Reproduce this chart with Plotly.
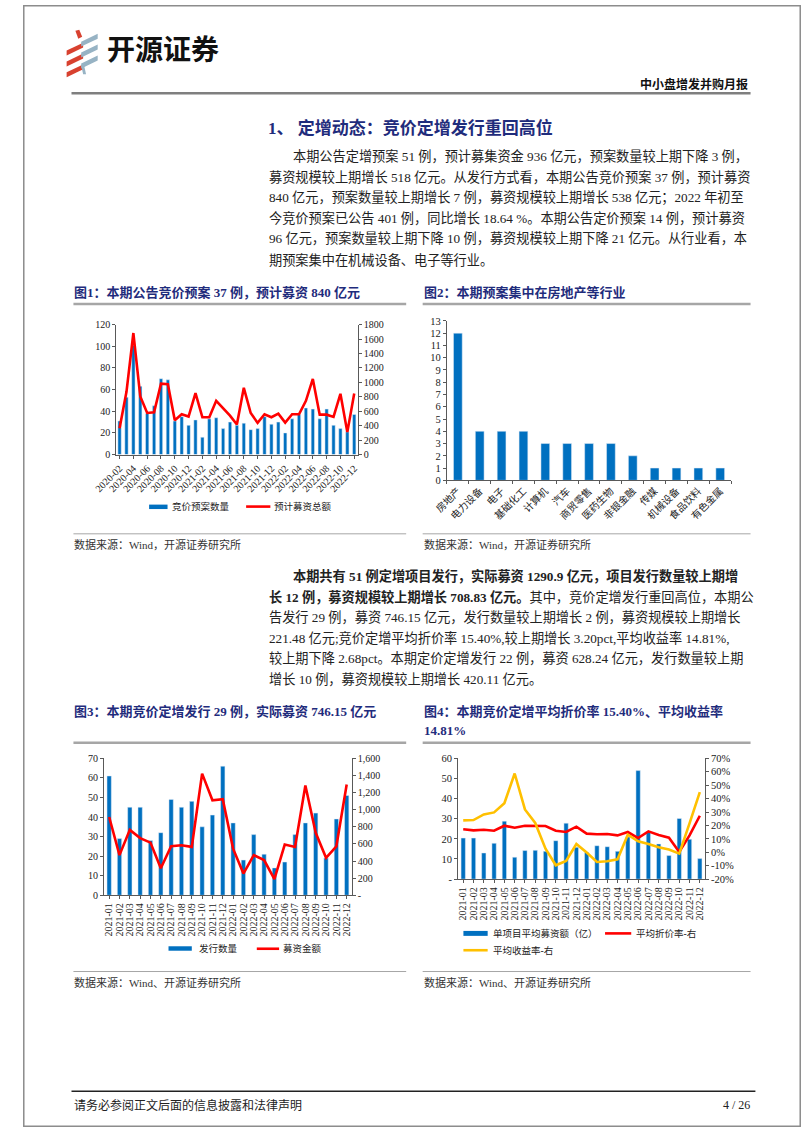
import plotly.graph_objects as go

W, H = 802, 1133

# ---------------- data ----------------
months1 = ['2020-02', '2020-03', '2020-04', '2020-05', '2020-06', '2020-07', '2020-08', '2020-09',
           '2020-10', '2020-11', '2020-12', '2021-01', '2021-02', '2021-03', '2021-04', '2021-05',
           '2021-06', '2021-07', '2021-08', '2021-09', '2021-10', '2021-11', '2021-12', '2022-01',
           '2022-02', '2022-03', '2022-04', '2022-05', '2022-06', '2022-07', '2022-08', '2022-09',
           '2022-10', '2022-11', '2022-12']
bid_plan_count = [31, 53, 101, 63, 38, 45, 70, 69, 31, 35, 27, 32, 16, 33, 34, 24, 30, 27, 29, 23,
                  24, 35, 28, 30, 20, 33, 37, 43, 42, 33, 42, 27, 24, 21, 37]
bid_plan_amount = [366, 869, 1683, 805, 576, 585, 983, 974, 475, 558, 526, 851, 517, 517, 745, 640,
                   540, 416, 924, 576, 439, 558, 517, 567, 443, 558, 558, 745, 1047, 553, 553, 521,
                   841, 311, 846]

industries = ['房地产', '电力设备', '电子', '基础化工', '计算机', '汽车', '商贸零售', '医药生物',
              '非银金融', '传媒', '机械设备', '食品饮料', '有色金属']
industry_count = [12, 4, 4, 4, 3, 3, 3, 3, 2, 1, 1, 1, 1]

months2 = ['2021-01', '2021-02', '2021-03', '2021-04', '2021-05', '2021-06', '2021-07', '2021-08',
           '2021-09', '2021-10', '2021-11', '2021-12', '2022-01', '2022-02', '2022-03', '2022-04',
           '2022-05', '2022-06', '2022-07', '2022-08', '2022-09', '2022-10', '2022-11', '2022-12']
issue_count = [61, 29, 45, 45, 28, 32, 49, 45, 48, 35, 41, 66, 37, 18, 31, 21, 14, 17, 31, 37, 42,
               19, 39, 51]
issue_amount = [914, 469, 764, 668, 615, 315, 572, 584, 565, 1421, 1110, 1122, 545, 253, 469, 411,
                188, 592, 565, 1283, 730, 438, 572, 1295]

avg_raise = [20.4, 20.4, 13.0, 17.8, 28.8, 10.9, 14.2, 14.3, 13.8, 19.1, 27.8, 15.8, 13.2, 16.6,
             16.1, 13.8, 20.9, 53.9, 23.2, 17.5, 11.7, 30.1, 19.8, 10.2]
avg_discount = [17.1, 16.3, 16.8, 16.1, 19.8, 18.3, 19.8, 19.8, 19.6, 16.1, 15.1, 19.1, 13.9, 13.4,
                13.6, 12.6, 15.1, 10.6, 15.6, 12.9, 10.9, 0.2, 12.6, 27.2]
avg_return = [23.8, 24.0, 28.2, 29.7, 36.6, 58.7, 31.9, 21.8, 2.7, -9.7, -6.4, 6.2, -0.2, -7.2,
              -6.7, -5.2, 13.1, 8.2, 6.2, 3.7, 2.0, -1.0, 21.5, 44.8]

left3_ticks = [0, 10, 20, 30, 40, 50, 60, 70]
right3_ticks = [0, 200, 400, 600, 800, 1000, 1200, 1400, 1600]
right3_text = ['-', '200', '400', '600', '800', '1,000', '1,200', '1,400', '1,600']
left4_ticks = [0, 10, 20, 30, 40, 50, 60]
left4_text = ['-', '10', '20', '30', '40', '50', '60']
right4_ticks = [-20, -10, 0, 10, 20, 30, 40, 50, 60, 70]
right4_text = ['-20%', '-10%', '0%', '10%', '20%', '30%', '40%', '50%', '60%', '70%']

# ---------------- style ----------------
BLUE = '#0070C0'
RED = '#FF0000'
YELLOW = '#FFC000'
NAVY = '#1F2C7C'
AX = '#595959'
SERIF = 'Liberation Serif, Noto Sans CJK SC'
CJK = 'Liberation Serif, Noto Sans CJK SC'


def X(p):
    return p / W


def Y(p):
    return 1 - p / H


fig = go.Figure()

# chart 1
fig.add_trace(go.Bar(x=months1, y=bid_plan_count, marker_color=BLUE, width=0.48,
                     xaxis='x', yaxis='y', showlegend=False))
fig.add_trace(go.Scatter(x=months1, y=bid_plan_amount, mode='lines', line=dict(color=RED, width=2.6),
                         xaxis='x', yaxis='y2', showlegend=False))
# chart 2
fig.add_trace(go.Bar(x=industries, y=industry_count, marker_color=BLUE, width=0.4,
                     xaxis='x2', yaxis='y3', showlegend=False))
# chart 3
fig.add_trace(go.Bar(x=months2, y=issue_count, marker_color=BLUE, width=0.42,
                     xaxis='x3', yaxis='y4', showlegend=False))
fig.add_trace(go.Scatter(x=months2, y=issue_amount, mode='lines', line=dict(color=RED, width=2.6),
                         xaxis='x3', yaxis='y5', showlegend=False))
# chart 4
fig.add_trace(go.Bar(x=months2, y=avg_raise, marker_color=BLUE, width=0.42,
                     xaxis='x4', yaxis='y6', showlegend=False))
fig.add_trace(go.Scatter(x=months2, y=avg_discount, mode='lines', line=dict(color=RED, width=2.6),
                         xaxis='x4', yaxis='y7', showlegend=False))
fig.add_trace(go.Scatter(x=months2, y=avg_return, mode='lines', line=dict(color=YELLOW, width=2.6),
                         xaxis='x4', yaxis='y7', showlegend=False))


def yax(dom, **kw):
    d = dict(domain=[Y(dom[1]), Y(dom[0])], showline=True, linecolor=AX, linewidth=1,
             ticks='outside', ticklen=3, tickcolor=AX, showgrid=False, zeroline=False,
             tickfont=dict(family=SERIF, size=10, color='#222'))
    d.update(kw)
    return d


def xax(dom, **kw):
    d = dict(domain=[X(dom[0]), X(dom[1])], type='category', showline=True, linecolor=AX,
             linewidth=1, ticks='outside', ticklen=3, tickcolor=AX, showgrid=False,
             zeroline=False, tickfont=dict(family=SERIF, size=10, color='#222'))
    d.update(kw)
    return d


fig.update_layout(
    width=W, height=H, margin=dict(l=0, r=0, t=0, b=0, pad=0),
    paper_bgcolor='white', plot_bgcolor='white',
    font=dict(family=SERIF, color='#222'),
    # chart 1
    xaxis=xax((96, 345), anchor='y', range=[-0.5, 34.5], tickmode='array',
              tickvals=months1[::2], tickangle=-45),
    yaxis=yax((322.7, 454), anchor='x', range=[0, 120], dtick=20),
    yaxis2=yax((322.7, 454), anchor='x', overlaying='y', side='right', range=[0, 1800], dtick=200),
    # chart 2
    xaxis2=xax((437, 730), anchor='y3', range=[-0.5, 12.5], tickangle=-45, tickson='boundaries',
               tickmode='array', tickvals=industries,
               tickfont=dict(family=CJK, size=10, color='#222')),
    yaxis3=yax((319, 480), anchor='x2', range=[0, 13], dtick=1,
               tickfont=dict(family=SERIF, size=10.5, color='#222')),
    # chart 3
    xaxis3=xax((83.5, 339), anchor='y4', range=[-0.5, 23.5], tickangle=-90,
               tickmode='array', tickvals=months2),
    yaxis4=yax((760.7, 899), anchor='x3', range=[0, 70], tickmode='array', tickvals=left3_ticks),
    yaxis5=yax((760.7, 899), anchor='x3', overlaying='y4', side='right', range=[0, 1600],
               tickmode='array', tickvals=right3_ticks, ticktext=right3_text),
    # chart 4
    xaxis4=xax((448.5, 703), anchor='y6', range=[-0.5, 23.5], tickangle=-90,
               tickmode='array', tickvals=months2),
    yaxis6=yax((760.7, 882.7), anchor='x4', range=[0, 60], tickmode='array', tickvals=left4_ticks,
               ticktext=left4_text, tickfont=dict(family=SERIF, size=10.5, color='#222')),
    yaxis7=yax((760.7, 882.7), anchor='x4', overlaying='y6', side='right', range=[-20, 70],
               tickmode='array', tickvals=right4_ticks, ticktext=right4_text,
               tickfont=dict(family=SERIF, size=10.5, color='#222')),
)

shapes = []


def hline(x0, x1, y, color, w):
    shapes.append(dict(type='line', xref='paper', yref='paper', x0=X(x0), x1=X(x1), y0=Y(y), y1=Y(y),
                       line=dict(color=color, width=w)))


def rect(x0, y0, x1, y1, color):
    shapes.append(dict(type='rect', xref='paper', yref='paper', x0=X(x0), x1=X(x1), y0=Y(y1), y1=Y(y0),
                       fillcolor=color, line=dict(width=0)))


def poly(pts, color):
    path = 'M ' + ' L '.join(f'{X(a):.5f},{Y(b):.5f}' for a, b in pts) + ' Z'
    shapes.append(dict(type='path', xref='paper', yref='paper', path=path, fillcolor=color,
                       line=dict(width=0)))


# page border
shapes.append(dict(type='rect', xref='paper', yref='paper', x0=X(0.8), x1=X(801.2), y0=Y(1132.2),
                   y1=Y(0.8), line=dict(color='#8C8C8C', width=1.5)))

# logo icon
LR = '#D8412F'
LB = '#97B3C4'
for i in range(3):
    y0 = 36 + 11 * i
    poly([(45, y0 + 10), (62, y0 + 2), (62, y0 + 7), (45, y0 + 15)], LR)
poly([(54, 26), (58, 25), (61, 32), (57, 34)], LR)
for i in range(3):
    y0 = 28 + 11 * i
    poly([(60, y0 + 9), (77, y0 + 1), (77, y0 + 6), (60, y0 + 14)], LB)
poly([(60, 61), (63, 61), (65, 70), (62, 70)], LB)

# rules
hline(50, 750, 89, '#7F7F7F', 2.5)
hline(52, 395, 302, '#A6A6A6', 2.5)
hline(412, 750, 302, '#A6A6A6', 2.5)
hline(52, 395, 534, '#A6A6A6', 1)
hline(412, 750, 534, '#A6A6A6', 1)
hline(52, 395, 745, '#A6A6A6', 2.5)
hline(412, 750, 745, '#A6A6A6', 2.5)
hline(52, 395, 976, '#A6A6A6', 1)
hline(412, 750, 976, '#A6A6A6', 1)
hline(50, 755, 1097, '#222222', 1.5)

# legends (swatches)
rect(130, 504.5, 149, 509, BLUE)
hline(230, 255, 506.5, RED, 2.6)
rect(150, 950.5, 174, 955, BLUE)
hline(241, 264, 953, RED, 2.6)
rect(454, 935, 479, 940, BLUE)
hline(600, 627, 937.5, RED, 2.6)
hline(454, 479, 954.5, YELLOW, 2.6)

fig.update_layout(shapes=shapes)


def txt(x, y, s, size=14, color='#222', anchor='left', family=CJK):
    fig.add_annotation(x=X(x), y=Y(y), xref='paper', yref='paper', text=s, showarrow=False,
                       xanchor=anchor, yanchor='middle', borderpad=0,
                       font=dict(size=size, color=color, family=family))


# header
txt(86, 43, '<b>开源证券</b>', size=28, color='#111', family='Noto Sans CJK SC')
txt(748, 79, '<b>中小盘增发并购月报</b>', size=12, color='#111', anchor='right',
    family='Noto Sans CJK SC')

# section title
txt(252, 124, '<b>1、 定增动态：竞价定增发行重回高位</b>', size=17, color=NAVY,
    family='Liberation Serif, Noto Sans CJK SC')

para1 = [
    '本期公告定增预案 51 例，预计募集资金 936 亿元，预案数量较上期下降 3 例，',
    '募资规模较上期增长 518 亿元。从发行方式看，本期公告竞价预案 37 例，预计募资',
    '840 亿元，预案数量较上期增长 7 例，募资规模较上期增长 538 亿元；2022 年初至',
    '今竞价预案已公告 401 例，同比增长 18.64 %。本期公告定价预案 14 例，预计募资',
    '96 亿元，预案数量较上期下降 10 例，募资规模较上期下降 21 亿元。从行业看，本',
    '期预案集中在机械设备、电子等行业。',
]
for i, line in enumerate(para1):
    txt(277 if i == 0 else 253, 153 + 20.8 * i, line, size=13.2)

txt(52, 290, '<b>图1：本期公告竞价预案 37 例，预计募资 840 亿元</b>', size=13, color=NAVY)
txt(412, 290, '<b>图2：本期预案集中在房地产等行业</b>', size=13, color=NAVY)
txt(52, 545, '数据来源：Wind，开源证券研究所', size=11, color='#333')
txt(412, 545, '数据来源：Wind，开源证券研究所', size=11, color='#333')

para2 = [
    '<b>本期共有 51 例定增项目发行，实际募资 1290.9 亿元，项目发行数量较上期增</b>',
    '<b>长 12 例，募资规模较上期增长 708.83 亿元。</b>其中，竞价定增发行重回高位，本期公',
    '告发行 29 例，募资 746.15 亿元，发行数量较上期增长 2 例，募资规模较上期增长',
    '221.48 亿元;竞价定增平均折价率 15.40%,较上期增长 3.20pct,平均收益率 14.81%,',
    '较上期下降 2.68pct。本期定价定增发行 22 例，募资 628.24 亿元，发行数量较上期',
    '增长 10 例，募资规模较上期增长 420.11 亿元。',
]
for i, line in enumerate(para2):
    txt(277 if i == 0 else 253, 577 + 20.8 * i, line, size=13.2)

txt(52, 713, '<b>图3：本期竞价定增发行 29 例，实际募资 746.15 亿元</b>', size=13, color=NAVY)
txt(412, 713, '<b>图4：本期竞价定增平均折价率 15.40%、平均收益率</b>', size=13, color=NAVY)
txt(412, 733, '<b>14.81%</b>', size=13, color=NAVY)
txt(52, 987, '数据来源：Wind、开源证券研究所', size=11, color='#333')
txt(412, 987, '数据来源：Wind、开源证券研究所', size=11, color='#333')

# legend texts
txt(153, 506.5, '竞价预案数量', size=9.5)
txt(258, 506.5, '预计募资总额', size=9.5)
txt(180, 953, '发行数量', size=9.5)
txt(267, 953, '募资金额', size=9.5)
txt(483, 937.5, '单项目平均募资额（亿）', size=9.5)
txt(631, 937.5, '平均折价率-右', size=9.5)
txt(483, 954.5, '平均收益率-右', size=9.5)

# footer
txt(52, 1111, '请务必参阅正文后面的信息披露和法律声明', size=12, color='#222')
txt(750, 1111, '4 / 26', size=12, color='#222', anchor='right')

fig.write_html('out.html')
